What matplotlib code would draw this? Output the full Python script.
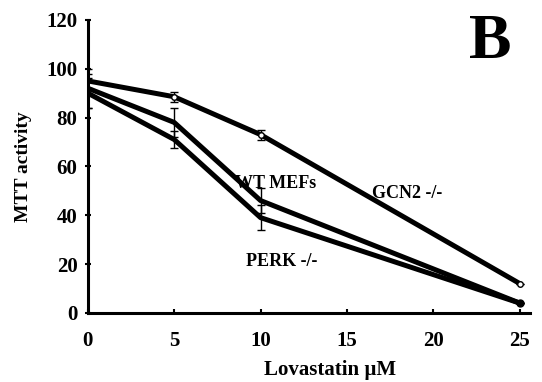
import matplotlib
matplotlib.use("Agg")
import matplotlib.pyplot as plt

# Lovastatin dose (uM) and MTT activity
dose = [0, 5, 10, 25]
wt_mefs = [92, 78, 46, 4]
wt_err = [8, 6, 5, 0]
perk_ko = [90, 71, 39, 4]
perk_err = [6, 3.5, 5, 0]
gcn2_ko = [95, 88.5, 73, 12]
gcn2_err = [3, 2, 2, 0]

xticks = [0, 5, 10, 15, 20, 25]
yticks = [0, 20, 40, 60, 80, 100, 120]

plt.rcParams["font.family"] = ["Liberation Serif", "DejaVu Serif"]
plt.rcParams["font.weight"] = "bold"

fig = plt.figure(figsize=(5.42, 3.82), dpi=100)
ax = fig.add_axes([0.162, 0.181, 0.816, 0.767])

lw = 3.6
for y, err in [(wt_mefs, wt_err), (perk_ko, perk_err)]:
    ax.errorbar(dose, y, yerr=err, color="black", lw=lw, elinewidth=1.0,
                capsize=3, capthick=1.0, solid_capstyle="round")
ax.plot(dose[-1], perk_ko[-1], "o", color="black", ms=5)
ax.errorbar(dose, gcn2_ko, yerr=gcn2_err, color="black", lw=lw, elinewidth=1.0,
            capsize=3, capthick=1.0, solid_capstyle="round")
ax.plot(dose[1:], gcn2_ko[1:], "o", ms=4, mfc="white", mec="black", mew=1.0, zorder=5)

ax.set_xlim(0, 25.6)
ax.set_ylim(0, 120)
ax.set_xticks(xticks)
ax.set_yticks(yticks)
ax.tick_params(axis="both", labelsize=15, width=1.5, length=3)
ax.tick_params(axis="x", direction="in", pad=13)
ax.tick_params(axis="y", direction="inout", length=5, pad=5)
for lab in ax.get_xticklabels() + ax.get_yticklabels():
    lab.set_fontweight("bold")

for side in ["top", "right"]:
    ax.spines[side].set_visible(False)
for side in ["left", "bottom"]:
    ax.spines[side].set_linewidth(2.2)

ax.set_xlabel("Lovastatin \u00b5M", fontsize=15, fontweight="bold")
ax.xaxis.set_label_coords(0.548, -0.16)
ax.set_ylabel("MTT activity", fontsize=14, fontweight="bold", labelpad=10)

ax.text(10.9, 53, "WT MEFs", fontsize=13, fontweight="bold", ha="center", va="center")
ax.text(18.5, 49, "GCN2 -/-", fontsize=13, fontweight="bold", ha="center", va="center")
ax.text(11.2, 21, "PERK -/-", fontsize=13, fontweight="bold", ha="center", va="center")
ax.text(23.3, 110.5, "B", fontsize=46, fontweight="bold", ha="center", va="center")

fig.savefig("out.png", dpi=100)
